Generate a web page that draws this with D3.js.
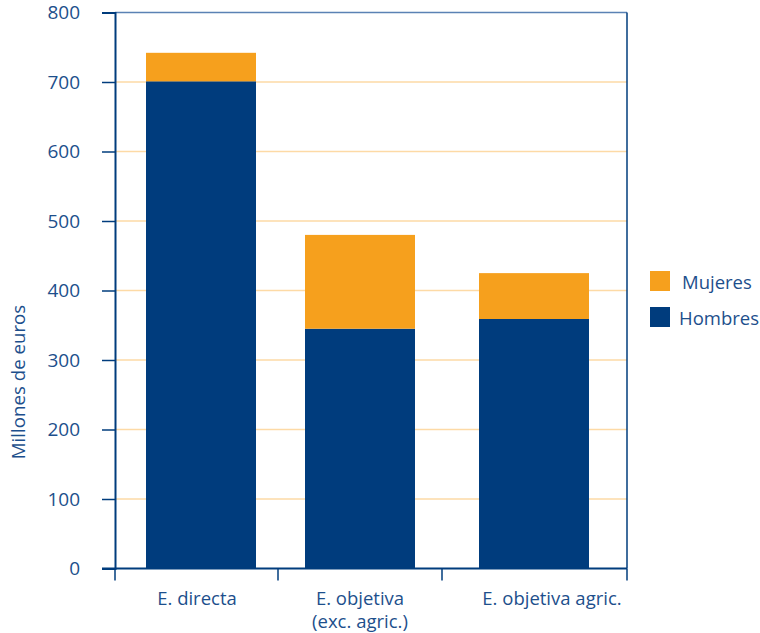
<!DOCTYPE html>
<html>
<head>
<meta charset="utf-8">
<script src="https://cdn.jsdelivr.net/npm/d3@7"></script>
<style>
body { margin: 0; background: #fff; }
svg { font-family: "Open Sans", "DejaVu Sans", sans-serif; }
</style>
</head>
<body>
<svg width="760" height="633"></svg>
<script>
var categories = ["E. directa", "E. objetiva\n(exc. agric.)", "E. objetiva agric."];
var hombres = [701, 345, 359];
var mujeres = [41, 135, 66];
var seriesNames = ["Mujeres", "Hombres"];
var yTicks = [0, 100, 200, 300, 400, 500, 600, 700, 800];

var textColor = "#1d4f8c",
	blue = "#003c7d",
	orange = "#f6a01d",
	gridColor = "#fddaa6";

var svg = d3.select("svg");

var plotLeft = 115, plotRight = 627, plotTop = 12.5, plotBottom = 568.5;

var yScale = d3.scaleLinear()
	.domain([0, 800])
	.range([plotBottom, plotTop]);

// bar centres, band edges and label centres are not evenly spaced in the original
var xBar = d3.scaleOrdinal().domain(categories).range([201, 360, 534]);
var xLabel = d3.scaleOrdinal().domain(categories).range([197, 360, 552]);
var edges = [115, 278, 442, 627];
var barWidth = 110;

// grid
svg.append("g")
	.selectAll("line")
	.data(yTicks.filter(function (d) { return d > 0 && d < 800; }))
	.join("line")
	.attr("x1", plotLeft).attr("x2", plotRight)
	.attr("y1", function (d) { return yScale(d); })
	.attr("y2", function (d) { return yScale(d); })
	.attr("stroke", gridColor)
	.attr("stroke-width", 1.5);

var data = categories.map(function (c, i) {
	return { cat: c, Hombres: hombres[i], Mujeres: mujeres[i] };
});
var stack = d3.stack().keys(["Hombres", "Mujeres"])(data);
var colors = { Hombres: blue, Mujeres: orange };

svg.append("g")
	.selectAll("g")
	.data(stack)
	.join("g")
	.attr("fill", function (s) { return colors[s.key]; })
	.selectAll("rect")
	.data(function (s) { return s; })
	.join("rect")
	.attr("x", function (d) { return xBar(d.data.cat) - barWidth / 2; })
	.attr("width", barWidth)
	.attr("y", function (d) { return yScale(d[1]); })
	.attr("height", function (d) { return yScale(d[0]) - yScale(d[1]); });

// frame: top and right
svg.append("line")
	.attr("x1", plotLeft).attr("x2", plotRight)
	.attr("y1", plotTop).attr("y2", plotTop)
	.attr("stroke", "#5a82b4").attr("stroke-width", 1.5);
svg.append("line")
	.attr("x1", plotRight).attr("x2", plotRight)
	.attr("y1", plotTop).attr("y2", plotBottom)
	.attr("stroke", blue).attr("stroke-width", 1.5);

// y axis
var yAxis = d3.axisLeft(yScale)
	.tickValues(yTicks)
	.tickSize(13)
	.tickPadding(22)
	.tickFormat(d3.format("d"));

var yg = svg.append("g")
	.attr("transform", "translate(" + plotLeft + ",0)")
	.call(yAxis);
yg.select(".domain").attr("stroke", blue).attr("stroke-width", 2);
yg.selectAll(".tick line").attr("stroke", blue).attr("stroke-width", 1.5);
yg.selectAll(".tick text")
	.attr("fill", textColor)
	.style("font-family", "\"Open Sans\", sans-serif")
	.style("font-size", "19px");

svg.append("text")
	.attr("transform", "translate(25,382) rotate(-90)")
	.attr("text-anchor", "middle")
	.attr("fill", textColor)
	.style("font-size", "18.7px")
	.text("Millones de euros");

// x axis
svg.append("line")
	.attr("x1", 102).attr("x2", plotRight)
	.attr("y1", plotBottom).attr("y2", plotBottom)
	.attr("stroke", blue).attr("stroke-width", 2);
svg.append("g")
	.selectAll("line")
	.data(edges)
	.join("line")
	.attr("x1", function (d) { return d; })
	.attr("x2", function (d) { return d; })
	.attr("y1", plotBottom).attr("y2", plotBottom + 12)
	.attr("stroke", blue).attr("stroke-width", 1.5);

svg.append("g")
	.selectAll("text")
	.data(categories)
	.join("text")
	.attr("x", function (d) { return xLabel(d); })
	.attr("y", 605)
	.attr("text-anchor", "middle")
	.attr("fill", textColor)
	.style("font-size", "18.5px")
	.each(function (d) {
		var t = d3.select(this);
		d.split("\n").forEach(function (line, i) {
			t.append("tspan")
				.attr("x", xLabel(d))
				.attr("dy", i === 0 ? 0 : 23)
				.text(line);
		});
	});

// legend
var legend = svg.append("g")
	.selectAll("g")
	.data(seriesNames)
	.join("g")
	.attr("transform", function (d, i) { return "translate(650," + (271 + i * 36) + ")"; });
legend.append("rect")
	.attr("width", 20).attr("height", 20)
	.attr("fill", function (d) { return colors[d]; });
legend.append("text")
	.attr("x", function (d) { return d === "Mujeres" ? 32 : 29; })
	.attr("y", 18)
	.attr("fill", textColor)
	.style("font-size", "18.5px")
	.text(function (d) { return d; });
</script>
</body>
</html>
